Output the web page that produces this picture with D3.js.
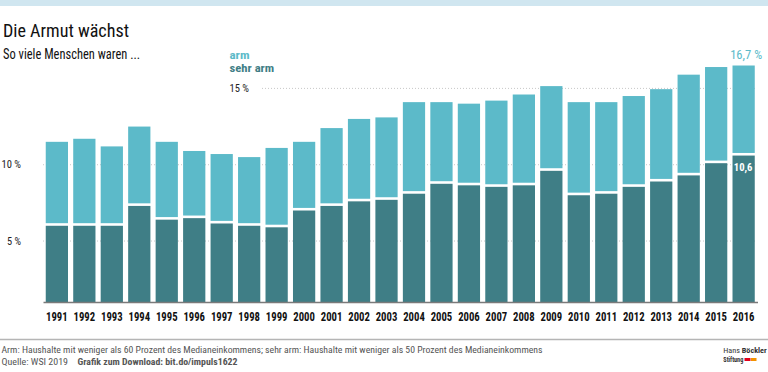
<!DOCTYPE html>
<html><head><meta charset="utf-8">
<script src="https://cdn.jsdelivr.net/npm/d3@7"></script>
<style>
body{margin:0;background:#fff;}
svg text{font-family:"Roboto Condensed",Roboto,"Liberation Sans",sans-serif;}
</style></head>
<body><svg id="c" width="768" height="372"></svg>
<script>
const years = ["1991","1992","1993","1994","1995","1996","1997","1998","1999","2000","2001","2002","2003","2004","2005","2006","2007","2008","2009","2010","2011","2012","2013","2014","2015","2016"];
const arm = [11.5,11.7,11.2,12.5,11.5,10.9,10.7,10.5,11.1,11.5,12.4,13.0,13.1,14.1,14.1,14.0,14.2,14.6,15.15,14.1,14.1,14.5,14.95,15.9,16.4,16.5];
const sehrArm = [6.0,6.0,6.0,7.3,6.4,6.5,6.15,6.0,5.9,7.0,7.3,7.6,7.7,8.1,8.75,8.65,8.55,8.65,9.6,8.0,8.1,8.55,8.9,9.3,10.1,10.6];
const yTicks = [5,10,15];
const yTickLabels = ["5 %","10 %","15 %"];

const svg = d3.select("#c");
const lightC = "#5cbac9", darkC = "#3f7e86";

function fit(sel, w){ return sel.attr("textLength",w).attr("lengthAdjust","spacingAndGlyphs"); }

svg.append("rect").attr("x",0).attr("y",0).attr("width",768).attr("height",6).attr("fill","#d0e6f0");

const x = d3.scaleBand().domain(years).range([43,757.5]).paddingInner(0.19).paddingOuter(0.1);
const y = d3.scaleLinear().domain([1,15]).range([302.1,88.4]);

// gridlines
svg.selectAll("line.grid").data(yTicks).enter().append("line")
  .attr("x1",d=>d===15?262:43).attr("x2",757)
  .attr("y1",d=>y(d)).attr("y2",d=>y(d))
  .attr("stroke","#c8c8c8").attr("stroke-width",1).attr("stroke-dasharray","1,2");

const tickW = {5:14, 10:19.5, 15:19.5};
svg.selectAll("text.ytick").data(yTicks).enter().append("text")
  .attr("x",d=>d===15?229.5:21).attr("y",d=>y(d)+3.6)
  .attr("text-anchor",d=>d===15?"start":"end")
  .attr("font-size",10.5).attr("fill","#222")
  .attr("textLength",d=>tickW[d]).attr("lengthAdjust","spacingAndGlyphs")
  .text((d,i)=>yTickLabels[i]);

const gap = 2.6;
const g = svg.append("g");
g.selectAll("rect.dark").data(years).enter().append("rect")
  .attr("x",d=>x(d)).attr("width",x.bandwidth())
  .attr("y",(d,i)=>y(sehrArm[i])).attr("height",(d,i)=>y(1)-y(sehrArm[i]))
  .attr("fill",darkC);
g.selectAll("rect.light").data(years).enter().append("rect")
  .attr("x",d=>x(d)).attr("width",x.bandwidth())
  .attr("y",(d,i)=>y(arm[i])).attr("height",(d,i)=>y(sehrArm[i])-gap-y(arm[i]))
  .attr("fill",lightC);

// axis
const ax = svg.append("g").attr("transform","translate(0,302.1)")
  .call(d3.axisBottom(x).tickSize(0).tickSizeOuter(0).tickPadding(10));
ax.select(".domain").attr("stroke","#7a7a7a").attr("stroke-width",1.5);
ax.selectAll("text").attr("font-size",12).attr("font-weight","bold").attr("fill","#111")
  .attr("textLength",21.6).attr("lengthAdjust","spacingAndGlyphs")
  .style("font-family",'"Roboto Condensed",Roboto,sans-serif');

// value labels
const last = years.length-1;
fit(svg.append("text").attr("x",x(years[last])+x.bandwidth()/2+2.5).attr("y",y(arm[last])-6.8)
  .attr("text-anchor","middle").attr("font-size",13.5).attr("fill",lightC)
  .text("16,7 %"),32);
fit(svg.append("text").attr("x",x(years[last])+x.bandwidth()/2-0.5).attr("y",y(sehrArm[last])+15.3)
  .attr("text-anchor","middle").attr("font-size",10.5).attr("font-weight","bold").attr("fill","#fff")
  .text("10,6"),18.7);

// title
fit(svg.append("text").attr("x",3).attr("y",37).attr("font-size",19).attr("fill","#111").text("Die Armut wächst"),126);
fit(svg.append("text").attr("x",3).attr("y",58.8).attr("font-size",14).attr("fill","#111").text("So viele Menschen waren ..."),137);

// legend
fit(svg.append("text").attr("x",229.5).attr("y",59).attr("font-size",11.3).attr("font-weight","bold").attr("fill",lightC).text("arm"),20);
fit(svg.append("text").attr("x",229.5).attr("y",72.3).attr("font-size",11.3).attr("font-weight","bold").attr("fill",darkC).text("sehr arm"),44.7);

// footer
svg.append("line").attr("x1",0).attr("x2",768).attr("y1",339.5).attr("y2",339.5).attr("stroke","#b5b5b5").attr("stroke-width",1.5);
fit(svg.append("text").attr("x",1.5).attr("y",353.3).attr("font-size",9.8).attr("fill","#555")
  .text("Arm: Haushalte mit weniger als 60 Prozent des Medianeinkommens; sehr arm: Haushalte mit weniger als 50 Prozent des Medianeinkommens"),541);
fit(svg.append("text").attr("x",1.5).attr("y",365).attr("font-size",9.8).attr("fill","#555").text("Quelle: WSI 2019"),66.5);
fit(svg.append("text").attr("x",77.5).attr("y",365).attr("font-size",9.8).attr("font-weight","bold").attr("fill","#555").text("Grafik zum Download: bit.do/impuls1622"),160);

// logo
const lg = fit(svg.append("text").attr("x",723.3).attr("y",353).attr("font-size",7.5).attr("fill","#333"),43.4);
lg.append("tspan").text("Hans ");
lg.append("tspan").attr("font-weight","bold").text("Böckler");
fit(svg.append("text").attr("x",723.3).attr("y",361.5).attr("font-size",7.5).attr("font-weight","bold").attr("fill","#333").text("Stiftung"),20);
svg.append("rect").attr("x",744.5).attr("y",358).attr("width",6).attr("height",3).attr("fill","#e2001a");
svg.append("rect").attr("x",751).attr("y",358).attr("width",5.5).attr("height",3).attr("fill","#f39200");
</script></body></html>
